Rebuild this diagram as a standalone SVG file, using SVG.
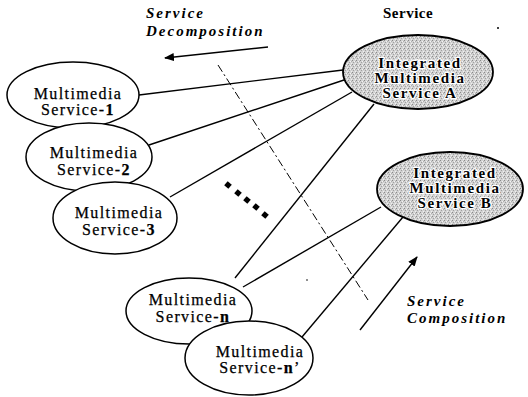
<svg xmlns="http://www.w3.org/2000/svg" width="528" height="397" viewBox="0 0 528 397">
<defs>
<pattern id="stip" width="4" height="4" patternUnits="userSpaceOnUse">
<rect width="4" height="4" fill="#d2d2d2"/>
<rect x="0" y="0" width="1" height="1" fill="#8a8a8a"/>
<rect x="2" y="1" width="1" height="1" fill="#f4f4f4"/>
<rect x="1" y="2" width="1" height="1" fill="#a0a0a0"/>
<rect x="3" y="3" width="1" height="1" fill="#f0f0f0"/>
<rect x="3" y="1" width="1" height="1" fill="#b0b0b0"/>
</pattern>
<marker id="ah" viewBox="0 0 10 8" refX="9" refY="4" markerWidth="10" markerHeight="8" markerUnits="userSpaceOnUse" orient="auto">
<path d="M0,0 L10,4 L0,8 Z" fill="#000"/>
</marker>
</defs>
<style>
.ms{fill:#fff;stroke:#000;stroke-width:1.5}
.is{fill:url(#stip);stroke:#000;stroke-width:1.8}
.t{font-family:"Liberation Serif","Times New Roman",serif;font-size:16px;letter-spacing:1.4px;text-anchor:middle;fill:#000;stroke:#000;stroke-width:0.25px}
.it{font-family:"Liberation Serif","Times New Roman",serif;font-size:15px;font-weight:bold;letter-spacing:1.6px;text-anchor:middle;fill:#000;stroke:#fff;stroke-width:2.5px;paint-order:stroke;stroke-linejoin:round}
.lbl{font-family:"Liberation Serif","Times New Roman",serif;font-size:15px;font-weight:bold;font-style:italic;letter-spacing:2px;fill:#000}
.c{stroke:#000;stroke-width:1.4;fill:none}
.d{fill:#000}
</style>
<rect width="528" height="397" fill="#fff"/>

<g id="labels">
<text class="lbl" x="146" y="18">Service</text>
<text class="lbl" x="146" y="36">Decomposition</text>
<text x="383" y="18" style="font-family:'Liberation Serif','Times New Roman',serif;font-size:15px;font-weight:bold;letter-spacing:0.5px">Service</text>
<text class="lbl" x="407" y="306">Service</text>
<text class="lbl" x="407" y="323">Composition</text>
</g>

<g id="connectors">
<line class="c" x1="139" y1="95" x2="343" y2="70"/>
<line class="c" x1="149" y1="145" x2="344" y2="80"/>
<line class="c" x1="170" y1="197" x2="352" y2="92"/>
<line class="c" x1="235" y1="278" x2="374" y2="104"/>
<line class="c" x1="243" y1="287" x2="381" y2="207"/>
<line class="c" x1="302" y1="337" x2="403" y2="217"/>
<line x1="218" y1="65" x2="368" y2="300" stroke="#000" stroke-width="1" stroke-dasharray="8 3 2 3"/>
<line class="c" x1="268" y1="47" x2="165" y2="58" marker-end="url(#ah)"/>
<line class="c" x1="360" y1="330" x2="417" y2="257" marker-end="url(#ah)"/>
</g>

<g id="dots">
<rect class="d" x="-2.7" y="-2.7" width="5.4" height="5.4" transform="translate(228 185) rotate(40)"/>
<rect class="d" x="-2.7" y="-2.7" width="5.4" height="5.4" transform="translate(238 193) rotate(40)"/>
<rect class="d" x="-2.7" y="-2.7" width="5.4" height="5.4" transform="translate(247 200) rotate(40)"/>
<rect class="d" x="-2.7" y="-2.7" width="5.4" height="5.4" transform="translate(256 207) rotate(40)"/>
<rect class="d" x="-2.7" y="-2.7" width="5.4" height="5.4" transform="translate(265 215) rotate(40)"/>
<circle cx="498" cy="28" r="1" fill="#000"/>
<circle cx="307" cy="280" r="0.8" fill="#000"/>
</g>

<g id="ms1">
<ellipse class="ms" cx="73" cy="95" rx="66" ry="33"/>
<text class="t" x="78" y="99">Multimedia</text>
<text class="t" x="78" y="115">Service-<tspan font-weight="bold">1</tspan></text>
</g>
<g id="ms2">
<ellipse class="ms" cx="89" cy="157" rx="63" ry="34"/>
<text class="t" x="94" y="158">Multimedia</text>
<text class="t" x="94" y="175">Service-<tspan font-weight="bold">2</tspan></text>
</g>
<g id="ms3">
<ellipse class="ms" cx="115" cy="218" rx="62" ry="36"/>
<text class="t" x="119" y="218">Multimedia</text>
<text class="t" x="119" y="235">Service-<tspan font-weight="bold">3</tspan></text>
</g>
<g id="msn">
<ellipse class="ms" cx="189" cy="311" rx="63" ry="33"/>
<text class="t" x="193" y="305">Multimedia</text>
<text class="t" x="193" y="322">Service-<tspan font-weight="bold">n</tspan></text>
</g>
<g id="msn2">
<ellipse class="ms" cx="249" cy="358" rx="64" ry="37"/>
<text class="t" x="260" y="357">Multimedia</text>
<text class="t" x="260" y="373">Service-<tspan font-weight="bold">n</tspan>’</text>
</g>
<g id="imsA">
<ellipse class="is" cx="418" cy="72" rx="75" ry="37"/>
<text class="it" x="420" y="68">Integrated</text>
<text class="it" x="420" y="83">Multimedia</text>
<text class="it" x="420" y="98">Service A</text>
</g>
<g id="imsB">
<ellipse class="is" cx="450" cy="189" rx="73" ry="37"/>
<text class="it" x="455" y="178">Integrated</text>
<text class="it" x="455" y="193">Multimedia</text>
<text class="it" x="455" y="208">Service B</text>
</g>
</svg>
